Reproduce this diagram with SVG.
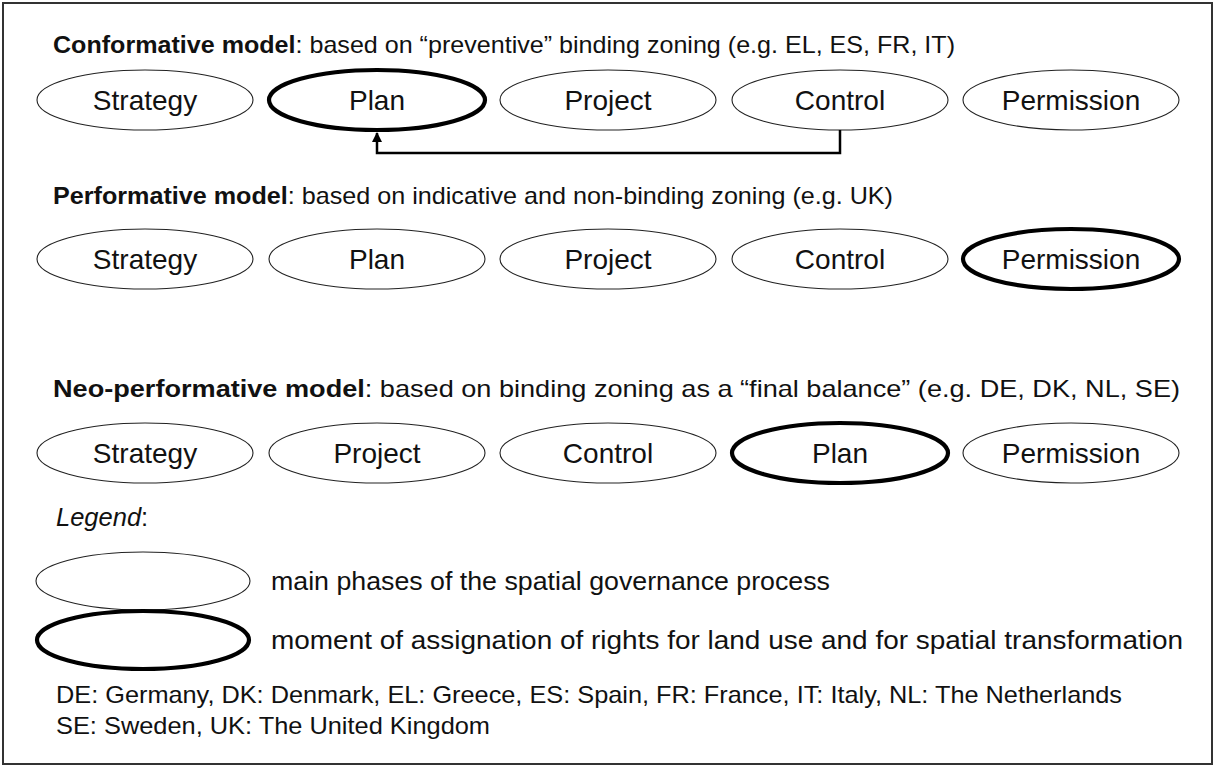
<svg xmlns="http://www.w3.org/2000/svg" width="1216" height="767" viewBox="0 0 1216 767">
<style>
text{font-family:"Liberation Sans",Arial,Helvetica,sans-serif;fill:#111}
.ttl{font-size:24px}
.lbl{font-size:28px;text-anchor:middle}
.leg{font-size:25.5px}
.ftr{font-size:24px}
.ph{fill:#fff;stroke:#222;stroke-width:1.1}
.rt{fill:#fff;stroke:#000;stroke-width:4.2}
.conn{fill:none;stroke:#000;stroke-width:2.5}
</style>
<defs>
<marker id="arr" viewBox="0 0 10 10" refX="9" refY="5" markerWidth="4" markerHeight="4" orient="auto" markerUnits="strokeWidth">
<path d="M0,0 L10,5 L0,10 z" fill="#000"/>
</marker>
</defs>
<rect x="3" y="3" width="1209" height="761" fill="#fff" stroke="#333" stroke-width="2"/>

<g id="title-conformative"><text class="ttl" x="53" y="53" textLength="902" lengthAdjust="spacingAndGlyphs"><tspan font-weight="bold">Conformative model</tspan>: based on “preventive” binding zoning (e.g. EL, ES, FR, IT)</text></g>
<g id="c-strategy"><ellipse class="ph" cx="145" cy="100" rx="108" ry="30"/><text class="lbl" x="145" y="110">Strategy</text></g>
<g id="c-plan"><ellipse class="rt" cx="377" cy="100" rx="108" ry="30"/><text class="lbl" x="377" y="110">Plan</text></g>
<g id="c-project"><ellipse class="ph" cx="608" cy="100" rx="108" ry="30"/><text class="lbl" x="608" y="110">Project</text></g>
<g id="c-control"><ellipse class="ph" cx="840" cy="100" rx="108" ry="30"/><text class="lbl" x="840" y="110">Control</text></g>
<g id="c-permission"><ellipse class="ph" cx="1071" cy="100" rx="108" ry="30"/><text class="lbl" x="1071" y="110">Permission</text></g>

<g id="connectors">
<path class="conn" d="M840,130 V153 H377 V133" marker-end="url(#arr)"/>
</g>

<g id="title-performative"><text class="ttl" x="53" y="204" textLength="840" lengthAdjust="spacingAndGlyphs"><tspan font-weight="bold">Performative model</tspan>: based on indicative and non-binding zoning (e.g. UK)</text></g>
<g id="p-strategy"><ellipse class="ph" cx="145" cy="259" rx="108" ry="30"/><text class="lbl" x="145" y="269">Strategy</text></g>
<g id="p-plan"><ellipse class="ph" cx="377" cy="259" rx="108" ry="30"/><text class="lbl" x="377" y="269">Plan</text></g>
<g id="p-project"><ellipse class="ph" cx="608" cy="259" rx="108" ry="30"/><text class="lbl" x="608" y="269">Project</text></g>
<g id="p-control"><ellipse class="ph" cx="840" cy="259" rx="108" ry="30"/><text class="lbl" x="840" y="269">Control</text></g>
<g id="p-permission"><ellipse class="rt" cx="1071" cy="259" rx="108" ry="30"/><text class="lbl" x="1071" y="269">Permission</text></g>

<g id="title-neoperformative"><text class="ttl" x="53" y="397" textLength="1127" lengthAdjust="spacingAndGlyphs"><tspan font-weight="bold">Neo-performative model</tspan>: based on binding zoning as a “final balance” (e.g. DE, DK, NL, SE)</text></g>
<g id="n-strategy"><ellipse class="ph" cx="145" cy="453" rx="108" ry="30"/><text class="lbl" x="145" y="463">Strategy</text></g>
<g id="n-project"><ellipse class="ph" cx="377" cy="453" rx="108" ry="30"/><text class="lbl" x="377" y="463">Project</text></g>
<g id="n-control"><ellipse class="ph" cx="608" cy="453" rx="108" ry="30"/><text class="lbl" x="608" y="463">Control</text></g>
<g id="n-plan"><ellipse class="rt" cx="840" cy="453" rx="108" ry="30"/><text class="lbl" x="840" y="463">Plan</text></g>
<g id="n-permission"><ellipse class="ph" cx="1071" cy="453" rx="108" ry="30"/><text class="lbl" x="1071" y="463">Permission</text></g>

<g id="legend">
<text class="leg" x="56" y="526" font-style="italic">Legend<tspan font-style="normal">:</tspan></text>
<g id="legend-phase"><ellipse class="ph" cx="143" cy="581" rx="107" ry="29"/><text class="leg" x="271" y="590" textLength="559" lengthAdjust="spacingAndGlyphs">main phases of the spatial governance process</text></g>
<g id="legend-rights"><ellipse class="rt" cx="143" cy="640" rx="106" ry="29"/><text class="leg" x="271" y="649" textLength="912" lengthAdjust="spacingAndGlyphs">moment of assignation of rights for land use and for spatial transformation</text></g>
</g>

<g id="footnote">
<text class="ftr" x="56" y="703" textLength="1066" lengthAdjust="spacingAndGlyphs">DE: Germany, DK: Denmark, EL: Greece, ES: Spain, FR: France, IT: Italy, NL: The Netherlands</text>
<text class="ftr" x="56" y="734" textLength="434" lengthAdjust="spacingAndGlyphs">SE: Sweden, UK: The United Kingdom</text>
</g>
</svg>
